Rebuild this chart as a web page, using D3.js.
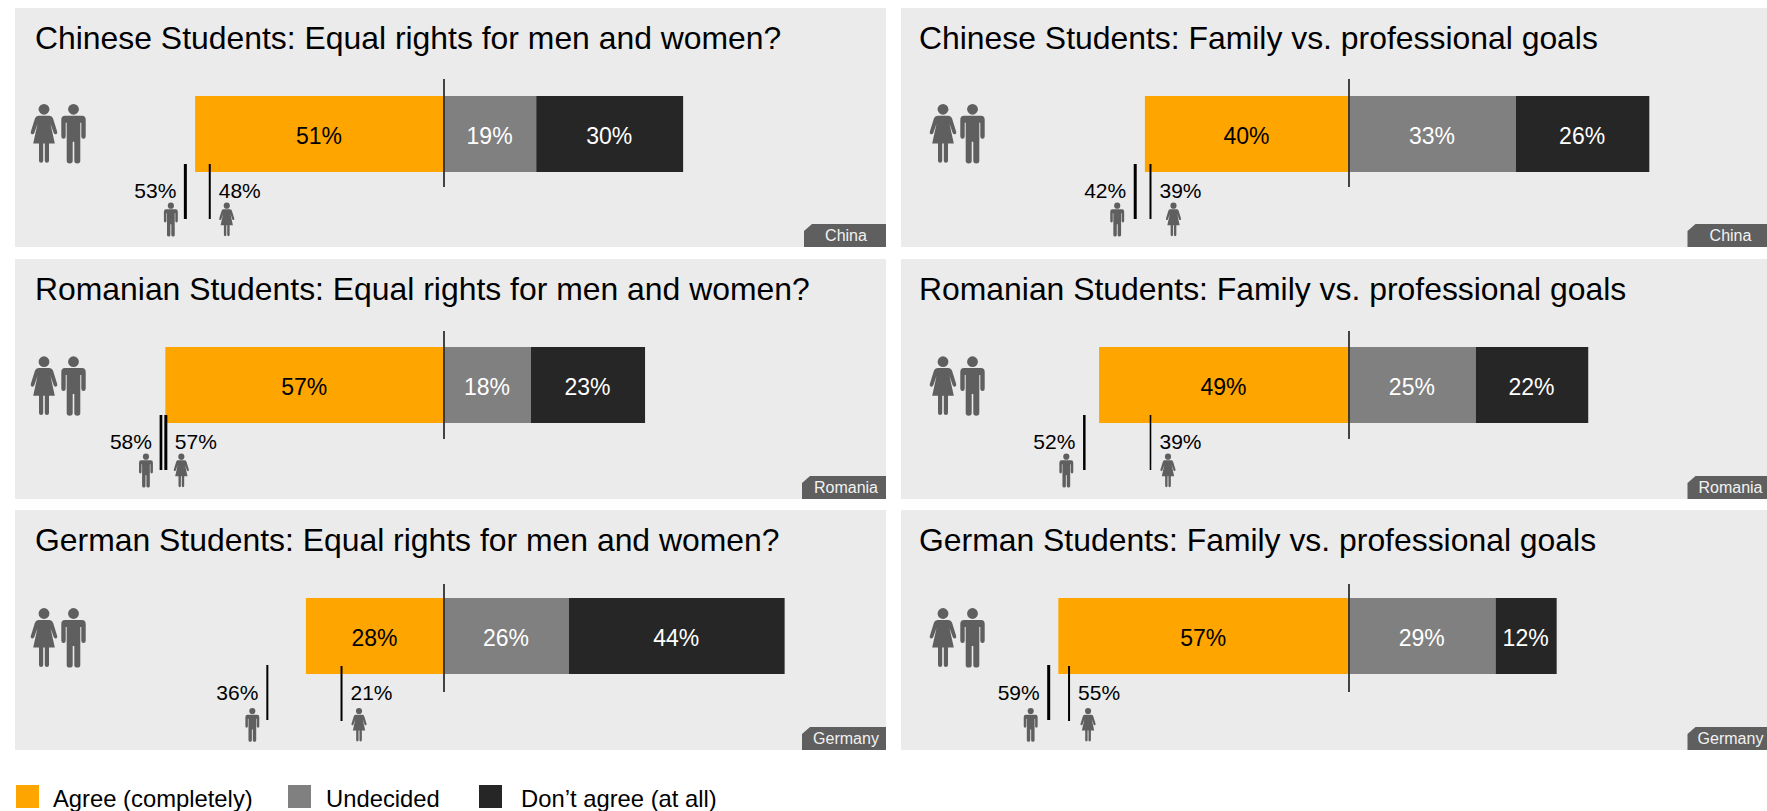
<!DOCTYPE html>
<html><head><meta charset="utf-8">
<script src="https://d3js.org/d3.v7.min.js"></script>
<style>html,body{margin:0;padding:0;background:#fff}svg{display:block}text{font-family:"Liberation Sans",Arial,sans-serif}</style>
</head><body><svg id="c" width="1767" height="811"></svg>
<script>
const countries = ["China","Romania","Germany"];
const demonyms = ["Chinese","Romanian","German"];
const topics = ["Equal rights for men and women?","Family vs. professional goals"];
const agree = [[51,40.1],[57.1,49.1],[28.3,57.1]];
const undecided = [[18.9,32.8],[17.8,24.9],[25.6,28.8]];
const disagree = [[30.1,26.2],[23.4,22.1],[44.2,12]];
const men = [[53,42],[58,52],[36.2,59]];
const women = [[48,39],[57,39],[21,55]];
const legendLabels = ["Agree (completely)","Undecided","Don\u2019t agree (at all)"];
const colors = ["#ffa500","#808080","#262626"];
const textColors = ["#000","#fff","#fff"];

const iconColor = "#5f5f5f";
const manPath = "M-8.5,0 H8.5 Q12.2,0 12.2,4 V20.5 Q12.2,23 10,23 Q7.8,23 7.8,20.5 V7 H6.8 V45 Q6.8,47.7 3.8,47.7 Q0.8,47.7 0.8,45 V26 H-0.8 V45 Q-0.8,47.7 -3.8,47.7 Q-6.8,47.7 -6.8,45 V7 H-7.8 V20.5 Q-7.8,23 -10,23 Q-12.2,23 -12.2,20.5 V4 Q-12.2,0 -8.5,0 Z";
const womanPath = "M-5.5,0 H5.5 Q8,0 9,2.5 L13.2,16 Q13.7,18 12,18.6 Q10.4,19 9.7,17.2 L6.5,8 L10.8,27.7 H5 V45 Q5,47 2.9,47 Q0.8,47 0.8,45 V27.7 H-0.8 V45 Q-0.8,47 -2.9,47 Q-5,47 -5,45 V27.7 H-10.8 L-6.5,8 L-9.7,17.2 Q-10.4,19 -12,18.6 Q-13.7,18 -13.2,16 L-9,2.5 Q-8,0 -5.5,0 Z";
function icon(g, kind, cx, top, k){
  const n = g.append("g").attr("transform",`translate(${cx},${top}) scale(${k})`).attr("fill",iconColor);
  n.append("circle").attr("cx",0).attr("cy",0).attr("r",5.4);
  n.append("path").attr("transform","translate(0,6.4)").attr("d",kind==="m"?manPath:womanPath);
}

const svg = d3.select("#c");
const colX = [{x:15,w:871,center:444,ppp:4.88,bigOff:0,titleX:35},{x:901,w:866,center:1349,ppp:5.09,bigOff:899,titleX:919}];
const rowY = [8,259,510];
const rowH = [239,240,240];
const dividerTop = [79,331,584];
const bigIconY = [109.3,361.7,613.5];
const smallIconY = [205.7,456.7,711];
const manLineTop = [164,415,665];
const manIconDx = [[-14.5,-18],[-15,-18],[-15,-18]];
const womanIconDx = [[17,23],[15.5,17.5],[17.5,19]];
const manLineW = [[3,3],[2.7,2.5],[2,3]];
const womanLineW = [[2,2],[3,1.6],[2,2]];
const tagLeft = [[804,1687.5],[802,1687.5],[802,1687.5]];
const tagMid = [[846,1730.5],[846,1730.5],[846,1730.5]];

rowY.forEach((py,r)=>{
  colX.forEach((col,c)=>{
    const g = svg.append("g");
    g.append("rect").attr("x",col.x).attr("y",py).attr("width",col.w).attr("height",rowH[r]).attr("fill","#ebebeb");
    g.append("text").attr("x",col.titleX).attr("y",py+41).attr("font-size",31.9).attr("fill","#000")
      .text(`${demonyms[r]} Students: ${topics[c]}`);
    const x = d3.scaleLinear().domain([0,100]).range([col.center,col.center+col.ppp*100]);
    const xl = d3.scaleLinear().domain([0,100]).range([col.center,col.center-col.ppp*100]);
    const barY = py+88, barH = 76;
    const vals = [agree[r][c],undecided[r][c],disagree[r][c]];
    const segs = [
      {x0:xl(vals[0]),x1:x(0)},
      {x0:x(0),x1:x(vals[1])},
      {x0:x(vals[1]),x1:x(vals[1]+vals[2])}
    ];
    segs.forEach((s,i)=>{
      g.append("rect").attr("x",s.x0).attr("y",barY).attr("width",s.x1-s.x0).attr("height",barH).attr("fill",colors[i]);
      g.append("text").attr("x",(s.x0+s.x1)/2-0.5).attr("y",barY+47.5).attr("text-anchor","middle")
        .attr("font-size",23).attr("fill",textColors[i]).text(Math.round(vals[i])+"%");
    });
    g.append("line").attr("x1",col.center).attr("x2",col.center).attr("y1",dividerTop[r]).attr("y2",dividerTop[r]+108).attr("stroke","#303030").attr("stroke-width",1.8);
    icon(g,"w",44+col.bigOff,bigIconY[r],1);
    icon(g,"m",73.5+col.bigOff,bigIconY[r],1);
    const mx = xl(men[r][c]), wx = xl(women[r][c]);
    const mt = manLineTop[r];
    g.append("line").attr("x1",mx).attr("x2",mx).attr("y1",mt).attr("y2",mt+55).attr("stroke","#000").attr("stroke-width",manLineW[r][c]);
    const wt = r===2?mt+1:mt;
    g.append("line").attr("x1",wx).attr("x2",wx).attr("y1",wt).attr("y2",wt+55).attr("stroke","#000").attr("stroke-width",womanLineW[r][c]);
    g.append("text").attr("x",mx-9).attr("y",py+190).attr("text-anchor","end").attr("font-size",21).text(Math.round(men[r][c])+"%");
    g.append("text").attr("x",wx+9).attr("y",py+190).attr("font-size",21).text(women[r][c]+"%");
    icon(g,"m",mx+manIconDx[r][c],smallIconY[r],0.57);
    icon(g,"w",wx+womanIconDx[r][c],smallIconY[r],0.57);
    const tr = col.x+col.w, tl = tagLeft[r][c], tb = py+rowH[r], tt = tb-23;
    g.append("path").attr("d",`M${tl},${tb} V${tt+7} L${tl+8},${tt} H${tr} V${tb} Z`).attr("fill",iconColor);
    g.append("text").attr("x",tagMid[r][c]).attr("y",tb-6).attr("text-anchor","middle").attr("font-size",16).attr("fill","#f2f2f2").text(countries[r]);
  });
});

const legX = [16,288,479], legT = [53,326,521];
legendLabels.forEach((l,i)=>{
  svg.append("rect").attr("x",legX[i]).attr("y",785).attr("width",23).attr("height",23).attr("fill",colors[i]);
  svg.append("text").attr("x",legT[i]).attr("y",806.5).attr("font-size",23.8).attr("fill","#000").text(l);
});
</script></body></html>
